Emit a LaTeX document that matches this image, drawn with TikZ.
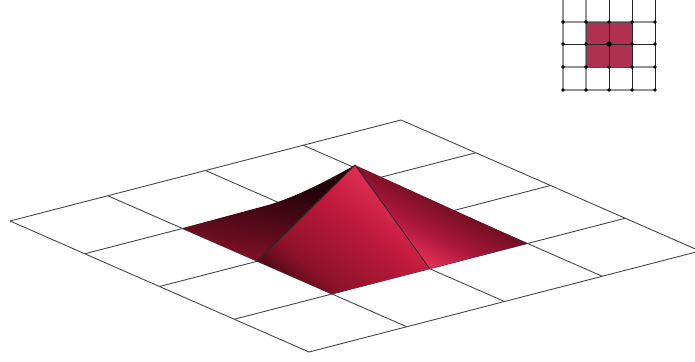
\documentclass[tikz,border=0pt]{standalone}
\definecolor{sA}{HTML}{4A0816}
\definecolor{sB}{HTML}{8C1229}
\definecolor{sC}{HTML}{C01A3C}
\definecolor{sD}{HTML}{EE3860}
\definecolor{dA}{HTML}{240409}
\definecolor{dB}{HTML}{4A0816}
\definecolor{dC}{HTML}{7E1026}
\definecolor{rA}{HTML}{EA3259}
\definecolor{rB}{HTML}{A8163A}
\definecolor{rC}{HTML}{7A1026}
\definecolor{rD}{HTML}{440815}
\definecolor{insetred}{HTML}{B03050}
\pgfdeclarehorizontalshading{frontshade}{100bp}{color(0bp)=(sA); color(23bp)=(sA); color(33bp)=(sB); color(55bp)=(sC); color(76bp)=(sD); color(100bp)=(sD)}
\pgfdeclarehorizontalshading{leftshade}{100bp}{color(0bp)=(dC); color(28bp)=(dC); color(48bp)=(dB); color(64bp)=(dA); color(100bp)=(dA)}
\pgfdeclarehorizontalshading{rightshade}{100bp}{color(0bp)=(rA); color(30bp)=(rA); color(43bp)=(rB); color(54bp)=(rC); color(66bp)=(rD); color(100bp)=(rD)}
\tikzset{
  gridline/.style={draw=black!72,line width=.9pt},
  ridge/.style={draw=black!85,line width=.8pt},
  minigray/.style={line width=1.3pt,draw=black!42},
  minidark/.style={line width=.9pt,draw=black!85},
  minidot/.style={circle,fill=black,inner sep=0pt,minimum size=3.8pt}
}
\begin{document}
\begin{tikzpicture}[x=1pt,y=-1pt]
\useasboundingbox (0,0) rectangle (695,361);
\clip (0,0) rectangle (695,361);
% main grid
\foreach \i in {0,...,4}{
  \foreach \j in {0,...,4}{
    \coordinate (p\i\j) at ({10+\i*97.75+\j*74.75},{221-\i*25.25+\j*32.75});
  }
}
\foreach \k in {0,...,4}{
  \draw[gridline] (p\k0) -- (p\k4);
  \draw[gridline] (p0\k) -- (p4\k);
}
\coordinate (apex) at (355,165);
% left face
\shade[shading=leftshade,shading angle=80]
  (p11) .. controls (225,216.5) and (250,210) .. (270,204.5)
  .. controls (295,197) and (325,182) .. (apex) -- (p12) -- cycle;
% right face
\shade[shading=rightshade,shading angle=62]
  (apex) -- (p33) -- (p23) -- cycle;
% front face
\shade[shading=frontshade,shading angle=52]
  (p12) -- (apex) -- (p23) -- (p13) -- cycle;
\draw[ridge] (p12) -- (apex) -- (p23);
% inset
\foreach \x in {563,586}{
  \draw[minigray] (\x,0) -- (\x,90);
}
\foreach \y in {22,67,90}{
  \draw[minigray] (563,\y) -- (655,\y);
}
\fill[insetred] (586,22) rectangle (632,67);
\foreach \x in {609,632,655}{
  \draw[minidark] (\x,0) -- (\x,90);
}
\draw[minidark] (563,44) -- (655,44);
\draw[minidark,draw=black!70] (586,22) -- (632,22) (586,67) -- (632,67) (586,22) -- (586,67);
\foreach \x in {563,586,609,632,655}{
  \foreach \y in {22,44,67,90}{
    \node[minidot] (d\x\y) at (\x,\y) {};
  }
}
\node[minidot,minimum size=5.5pt] (dc) at (609,44) {};
\end{tikzpicture}
\end{document}
